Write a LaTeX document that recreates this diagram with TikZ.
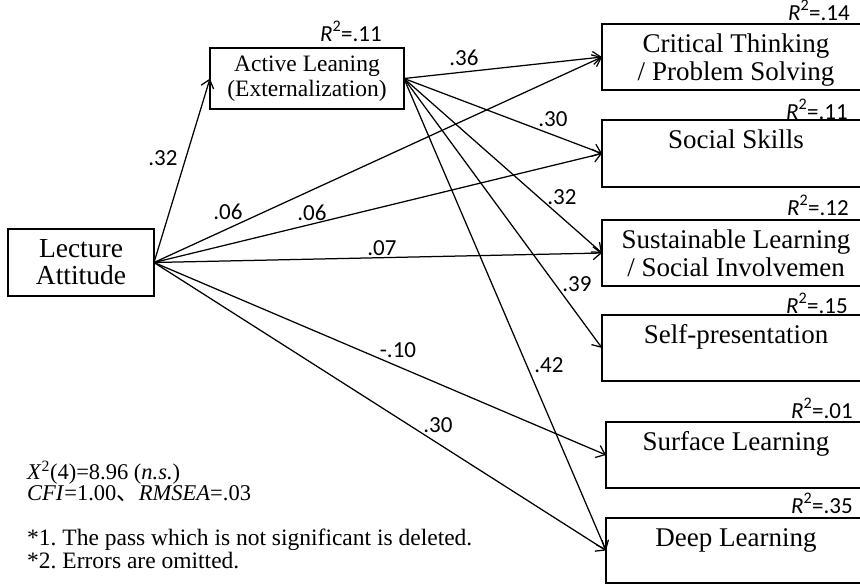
\documentclass[tikz,border=0pt]{standalone}
\usepackage{fontspec}
\setmainfont{Liberation Serif}
\newfontfamily\lblfont{Carlito}
\newfontfamily\cjkfont{Noto Sans CJK JP}
\usetikzlibrary{arrows.meta}
\frenchspacing
\tikzset{
  boxnode/.style={draw, line width=1.4pt, rectangle, inner sep=0pt, outer sep=0pt},
  boxtext/.style={inner sep=0pt, align=center, anchor=north, yshift=-8.4pt,
    font=\fontsize{27}{28}\selectfont},
  conn/.style={line width=1.25pt, -{Straight Barb[length=8pt,width=13pt]}},
  coef/.style={font=\lblfont\fontsize{23}{23}\selectfont, inner sep=0pt},
  rsq/.style={font=\lblfont\fontsize{23}{23}\selectfont, inner sep=0pt, anchor=base east},
  note/.style={font=\fontsize{23.5}{19.5}\selectfont, inner sep=0pt, align=left, anchor=north west},
}
\newcommand{\rsqtext}[1]{\textit{R}\textsuperscript{2}=#1}
\begin{document}
\begin{tikzpicture}[x=1pt,y=-1pt]
\useasboundingbox (0,0) rectangle (860,587);

% left boxes
\node[boxnode, minimum width=146pt, minimum height=67pt, align=center,
  font=\fontsize{27.5}{27}\selectfont] (lect) at (81,262.5) {Lecture\\Attitude};
\node[boxnode, minimum width=194pt, minimum height=61pt, align=center,
  font=\fontsize{23.5}{25}\selectfont] (act) at (307,78.5) {Active Leaning\\(Externalization)};

% right boxes
\node[boxnode, minimum width=268pt, minimum height=66pt] (crit) at (736,57) {};
\node[boxnode, minimum width=268pt, minimum height=67pt] (soc) at (736,153.5) {};
\node[boxnode, minimum width=268pt, minimum height=66pt] (sust) at (736,253) {};
\node[boxnode, minimum width=268pt, minimum height=66pt] (self) at (736,348) {};
\node[boxnode, minimum width=260pt, minimum height=66pt] (surf) at (736,455) {};
\node[boxnode, minimum width=260pt, minimum height=65pt] (deep) at (736,550.5) {};

\node[boxtext] (critT) at (crit.north) {\strut Critical Thinking\\\strut / Problem Solving};
\node[boxtext] (socT) at (soc.north) {\strut Social Skills};
\node[boxtext] (sustT) at (sust.north) {\strut Sustainable Learning\\\strut / Social Involvemen};
\node[boxtext] (selfT) at (self.north) {\strut Self-presentation};
\node[boxtext] (surfT) at (surf.north) {\strut Surface Learning};
\node[boxtext] (deepT) at (deep.north) {\strut Deep Learning};

% R squared
\node[rsq] (r0) at (382,41) {\rsqtext{.11}};
\node[rsq] (r1) at (850,20) {\rsqtext{.14}};
\node[rsq] (r2) at (848,119) {\rsqtext{.11}};
\node[rsq] (r3) at (849,215) {\rsqtext{.12}};
\node[rsq] (r4) at (848,313) {\rsqtext{.15}};
\node[rsq] (r5) at (853,418) {\rsqtext{.01}};
\node[rsq] (r6) at (853,513) {\rsqtext{.35}};

% connectors from Lecture Attitude
\draw[conn] (lect.east) -- (act.west);
\draw[conn] (lect.east) -- (crit.west);
\draw[conn] (lect.east) -- (soc.west);
\draw[conn] (lect.east) -- (sust.west);
\draw[conn] (lect.east) -- (surf.west);
\draw[conn] (lect.east) -- (deep.west);

% connectors from Active Leaning
\draw[conn] (act.east) -- (crit.west);
\draw[conn] (act.east) -- (soc.west);
\draw[conn] (act.east) -- (sust.west);
\draw[conn] (act.east) -- (self.west);
\draw[conn] (act.east) -- (deep.west);

% coefficients
\node[coef] (c1) at (163,158) {.32};
\node[coef] (c2) at (228,212) {.06};
\node[coef] (c3) at (312,213) {.06};
\node[coef] (c4) at (382,248) {.07};
\node[coef] (c5) at (398,350) {-.10};
\node[coef] (c6) at (438,425) {.30};
\node[coef] (c7) at (464,58) {.36};
\node[coef] (c8) at (553,119) {.30};
\node[coef] (c9) at (562,197) {.32};
\node[coef] (c10) at (577,284) {.39};
\node[coef] (c11) at (549,365) {.42};

% notes
\node[note, font=\fontsize{22.5}{21}\selectfont] (fit) at (27,461) {\textit{X}\textsuperscript{2}(4)=8.96 (\textit{n.s.})\\
  \textit{CFI}=1.00\smash{\cjkfont 、}\textit{RMSEA}=.03};
\node[note] (foot) at (27,529) {*1. The pass which is not significant is deleted.\\
  *2. Errors are omitted.};
\end{tikzpicture}
\end{document}
